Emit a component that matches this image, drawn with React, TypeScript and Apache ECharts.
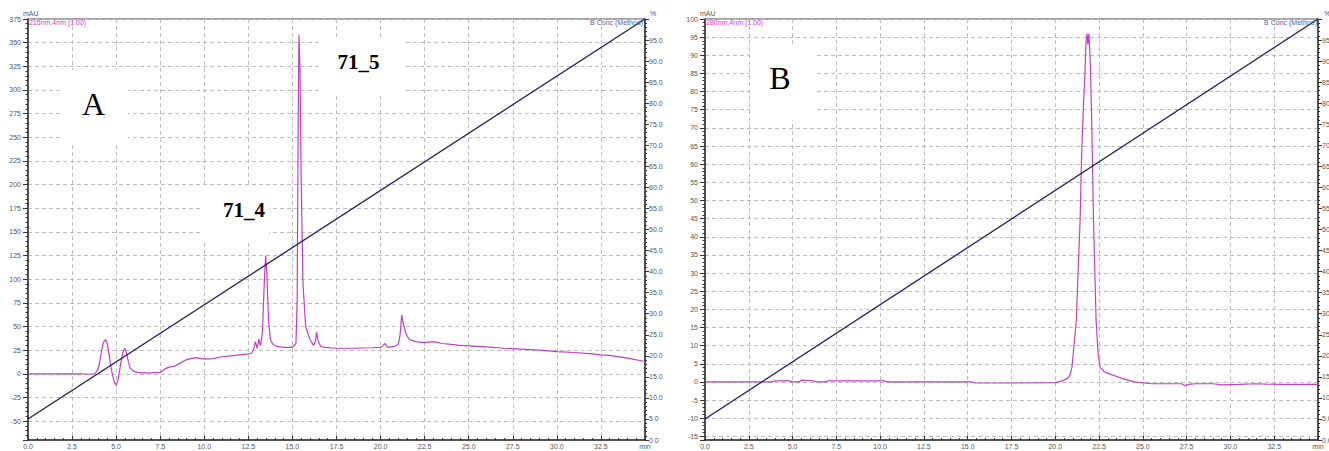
import React, { useEffect, useRef } from 'react';
import * as echarts from 'echarts';

// Panel A chromatogram (215nm)
const timesA = [0, 1, 2, 3, 3.5, 3.8, 4.0, 4.1, 4.2, 4.3, 4.4, 4.5, 4.6, 4.7, 4.8, 4.9, 5.0, 5.1, 5.2, 5.3, 5.4, 5.5, 5.6, 5.7, 5.8, 6.0, 6.2, 6.5, 7.0, 7.5, 7.6, 7.8, 8.0, 8.3, 8.6, 9.0, 9.5, 10.0, 10.5, 11.0, 11.5, 12.0, 12.5, 12.7, 12.8, 12.9, 13.0, 13.1, 13.15, 13.2, 13.3, 13.4, 13.48, 13.55, 13.65, 13.75, 13.9, 14.1, 14.5, 15.0, 15.2, 15.27, 15.32, 15.37, 15.43, 15.5, 15.6, 15.75, 16.0, 16.2, 16.3, 16.37, 16.45, 16.6, 16.8, 17.5, 18.5, 19.5, 20.0, 20.15, 20.25, 20.4, 20.8, 21.0, 21.1, 21.2, 21.3, 21.45, 21.6, 21.8, 22.0, 22.5, 23.0, 23.5, 24.0, 24.5, 25.0, 26.0, 27.0, 28.0, 29.0, 30.0, 31.0, 32.0, 32.5, 33.0, 34.0, 35.0];
const valuesA = [0, 0, 0, 0, -0.5, 0, 6, 16, 27, 34, 36, 31, 20, 8, -2, -9, -12, -7, 4, 15, 24, 27, 21, 12, 6, 2.5, 1.5, 1, 1, 1.5, 3, 5.5, 7, 8, 11, 15, 17, 15.5, 16, 18, 19, 20, 21, 22, 26, 34, 27, 37, 32, 30, 45, 95, 125, 105, 55, 36, 31, 29, 28, 28, 32, 80, 250, 358, 320, 200, 95, 50, 36, 30, 34, 44, 35, 29, 28, 27, 27, 27.5, 28, 30, 32, 28, 29, 31, 40, 62, 52, 42, 37, 35, 34, 33, 34, 32, 31, 30, 29.5, 28.5, 27, 26, 25, 23.5, 22.5, 21, 20, 19.5, 16.5, 13];

// Panel B chromatogram (280nm)
const timesB = [0, 2, 3.8, 4.0, 4.8, 5.0, 5.4, 5.5, 6.2, 6.3, 6.9, 7.0, 10.2, 10.4, 15.2, 15.4, 18, 20, 20.4, 20.7, 20.85, 20.95, 21.05, 21.2, 21.3, 21.42, 21.5, 21.6, 21.7, 21.76, 21.81, 21.86, 21.92, 22.0, 22.08, 22.18, 22.26, 22.33, 22.44, 22.56, 22.8, 23.2, 23.8, 24.5, 25.5, 27.2, 27.4, 27.7, 28.0, 29.0, 29.5, 30.5, 31.5, 32.0, 33.0, 35];
const valuesB = [0, 0, 0, 0.3, 0.3, 0, 0, 0.5, 0.3, 0, 0, 0.3, 0.3, 0, 0, -0.3, -0.3, -0.2, 0.3, 1, 2, 4, 9, 17, 30, 45, 62, 75, 86, 94, 96, 93, 96, 88, 72, 45, 30, 17, 8, 4, 2.8, 2, 1, 0, -0.5, -0.5, -1, -0.6, -0.5, -0.5, -0.8, -0.7, -0.5, -0.6, -0.7, -0.7];

// Gradient (B Conc, %)
const gradientTimes = [0, 35];
const gradientPercent = [5, 100];

const pairs = (xs: number[], ys: number[]) => xs.map((t, i) => [t, ys[i]]);

const FONT = 'Liberation Sans';
const labelBase = { fontFamily: FONT, fontSize: 7, color: '#555' };
const axisColor = '#333';
const gridLine = { show: true, lineStyle: { color: '#bdbdbd', type: [4, 3] as any, width: 1 } };

function xAxisFor(gi: number) {
  return {
    type: 'value', gridIndex: gi, min: 0, max: 35, interval: 2.5,
    axisLine: { show: true, onZero: false, lineStyle: { color: axisColor, width: 1.5 } },
    axisTick: { show: true, inside: true, length: 4, lineStyle: { color: axisColor } },
    minorTick: { show: true, splitNumber: 5, length: 2, lineStyle: { color: axisColor } },
    splitLine: gridLine,
    axisLabel: { ...labelBase, margin: 3, showMinLabel: true, showMaxLabel: true,
      formatter: (v: number) => (v === 35 ? 'min' : v.toFixed(1)) },
  };
}

function leftAxis(gi: number, min: number, max: number, step: number) {
  return {
    type: 'value', gridIndex: gi, position: 'left', min, max, minInterval: step, maxInterval: step,
    axisLine: { show: true, onZero: false, lineStyle: { color: axisColor, width: 1.5 } },
    axisTick: { show: true, inside: false, length: 5, lineStyle: { color: axisColor } },
    minorTick: { show: true, splitNumber: 5, length: 2.5, lineStyle: { color: axisColor } },
    splitLine: gridLine,
    axisLabel: { ...labelBase, margin: 7, showMinLabel: true, showMaxLabel: true,
      formatter: (v: number) => (v === min ? '' : String(v)) },
  };
}

function rightAxis(gi: number) {
  return {
    type: 'value', gridIndex: gi, position: 'right', min: 0, max: 100, interval: 5,
    axisLine: { show: true, onZero: false, lineStyle: { color: axisColor, width: 1.5 } },
    axisTick: { show: true, inside: false, length: 4, lineStyle: { color: axisColor } },
    minorTick: { show: true, splitNumber: 5, length: 2, lineStyle: { color: axisColor } },
    splitLine: { show: false },
    axisLabel: { ...labelBase, margin: 4, showMinLabel: true, showMaxLabel: true,
      formatter: (v: number) => (v === 100 ? '' : v.toFixed(1)) },
  };
}

const magenta = '#c23fc4';
const navy = '#1c1c5a';
const concColor = '#5a5aa8';

export default function App() {
  const ref = useRef<HTMLDivElement>(null);
  useEffect(() => {
    if (!ref.current) return;
    const chart = echarts.init(ref.current, null, { renderer: 'svg' });
    const smallText = (x: number, y: number, text: string, fill: string, align = 'left') => ({
      type: 'text', x, y, z: 100,
      style: { text, fill, font: `7px "${FONT}"`, textAlign: align, textVerticalAlign: 'middle' },
    });
    const whiteBox = (x: number, y: number, w: number, h: number) => ({
      type: 'rect', z: 90, shape: { x, y, width: w, height: h }, style: { fill: '#fff' },
    });
    const bigText = (x: number, y: number, text: string, size: number, bold: boolean) => ({
      type: 'text', x, y, z: 100,
      style: { text, fill: '#000', font: `${bold ? 'bold ' : ''}${size}px "Liberation Serif"`,
        textAlign: 'center', textVerticalAlign: 'middle' },
    });
    const option: any = {
      animation: false,
      backgroundColor: '#fff',
      textStyle: { fontFamily: FONT },
      grid: [
        { left: 28, top: 19, width: 617, height: 421, show: true, borderColor: '#444', borderWidth: 1,
          backgroundColor: 'transparent', containLabel: false, outerBoundsMode: 'none' },
        { left: 705, top: 19, width: 613, height: 421, show: true, borderColor: '#444', borderWidth: 1,
          backgroundColor: 'transparent', containLabel: false, outerBoundsMode: 'none' },
      ],
      xAxis: [xAxisFor(0), xAxisFor(1)],
      yAxis: [leftAxis(0, -70, 375, 25), rightAxis(0), leftAxis(1, -16, 100, 5), rightAxis(1)],
      series: [
        { type: 'line', xAxisIndex: 0, yAxisIndex: 0, data: pairs(timesA, valuesA), symbol: 'none',
          lineStyle: { color: magenta, width: 1.2 }, itemStyle: { color: magenta }, z: 3 },
        { type: 'line', xAxisIndex: 0, yAxisIndex: 1, data: pairs(gradientTimes, gradientPercent), symbol: 'none',
          lineStyle: { color: navy, width: 1.3 }, itemStyle: { color: navy }, z: 4 },
        { type: 'line', xAxisIndex: 1, yAxisIndex: 2, data: pairs(timesB, valuesB), symbol: 'none',
          lineStyle: { color: magenta, width: 1.2 }, itemStyle: { color: magenta }, z: 3 },
        { type: 'line', xAxisIndex: 1, yAxisIndex: 3, data: pairs(gradientTimes, gradientPercent), symbol: 'none',
          lineStyle: { color: navy, width: 1.3 }, itemStyle: { color: navy }, z: 4 },
      ],
      graphic: [
        whiteBox(60, 70, 68, 72),
        whiteBox(203, 186, 66, 56),
        whiteBox(322, 38, 83, 58),
        whiteBox(750, 47, 66, 73),
        bigText(93.5, 104, 'A', 32, false),
        bigText(244, 210, '71_4', 21, true),
        bigText(358.5, 62, '71_5', 21, true),
        bigText(780, 78, 'B', 32, false),
        smallText(23, 13, 'mAU', '#555'),
        smallText(29, 22, '215nm,4nm (1.00)', '#d040d0'),
        smallText(643, 22, 'B Conc (Method)', concColor, 'right'),
        smallText(650, 13, '%', '#555'),
        smallText(700, 13, 'mAU', '#555'),
        smallText(706, 22, '280nm,4nm (1.00)', '#d040d0'),
        smallText(1317, 22, 'B Conc (Method)', concColor, 'right'),
        smallText(1324, 13, '%', '#555'),
      ],
    };
    chart.setOption(option);
    return () => chart.dispose();
  }, []);
  return <div ref={ref} style={{ position: 'absolute', left: 0, top: 0, width: 1329, height: 451, background: '#fff' }} />;
}
